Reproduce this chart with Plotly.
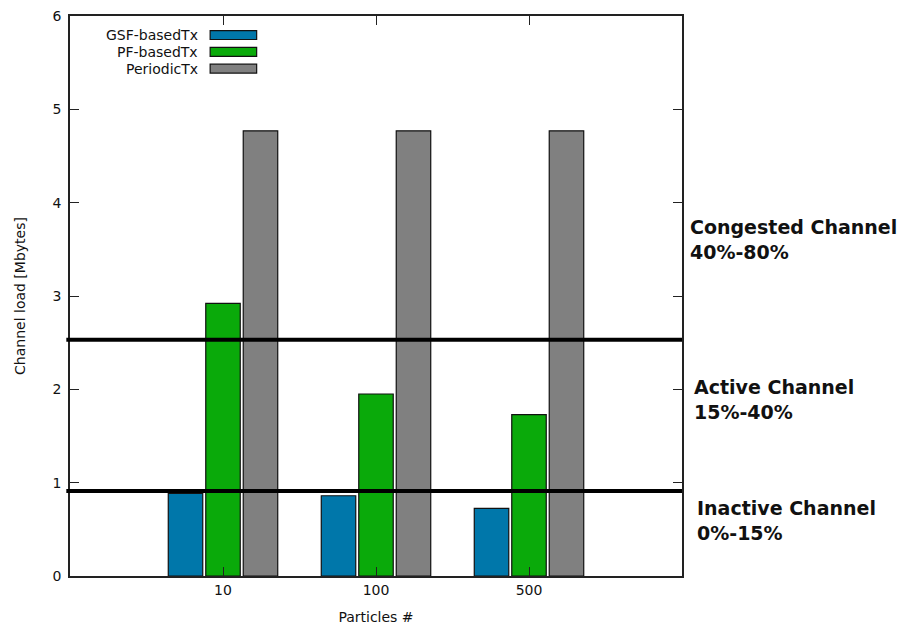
import plotly.graph_objects as go

categories = ["10", "100", "500"]
cat_pos = [1, 2, 3]
gsf_values = [0.885, 0.86, 0.725]
pf_values = [2.92, 1.95, 1.73]
periodic_values = [4.77, 4.77, 4.77]
series_names = ["GSF-basedTx", "PF-basedTx", "PeriodicTx"]
series_colors = ["#0077aa", "#0aaa0a", "#808080"]
threshold_values = [2.53, 0.91]
zone_labels = [("Congested Channel<br>40%-80%", 3.61, 0.010),
               ("Active Channel<br>15%-40%", 1.89, 0.016),
               ("Inactive Channel<br>0%-15%", 0.60, 0.021)]
y_ticks = [0, 1, 2, 3, 4, 5, 6]

FONT = "DejaVu Sans"

fig = go.Figure()
for name, vals, col in zip(series_names, [gsf_values, pf_values, periodic_values], series_colors):
    fig.add_trace(go.Bar(x=cat_pos, y=vals, name=name,
                         marker=dict(color=col, line=dict(color="#111111", width=1.2)),
                         showlegend=False))

for yv in threshold_values:
    fig.add_shape(type="line", xref="paper", yref="y", x0=-0.006, x1=1.0, y0=yv, y1=yv,
                  line=dict(color="black", width=4), layer="above")

# legend (text right-aligned with swatch on the right, gnuplot style)
leg_y = [0.966, 0.936, 0.906]
for name, col, ly in zip(series_names, series_colors, leg_y):
    fig.add_annotation(xref="paper", yref="paper", x=0.212, y=ly, text=name,
                       showarrow=False, xanchor="right", yanchor="middle",
                       font=dict(family=FONT, size=14, color="#111"))
    fig.add_shape(type="rect", xref="paper", yref="paper", x0=0.229, x1=0.305,
                  y0=ly - 0.008, y1=ly + 0.008, fillcolor=col,
                  line=dict(color="#111", width=1.2))

for txt, yv, xo in zone_labels:
    fig.add_annotation(xref="paper", yref="y", x=1.0 + xo, y=yv, text=txt, showarrow=False,
                       xanchor="left", yanchor="middle", align="left",
                       font=dict(family=FONT, size=19, color="#111", weight="bold"))

axis_common = dict(showline=True, linecolor="#222", linewidth=1.5, mirror="allticks",
                   ticks="inside", ticklen=9, tickcolor="#222", showgrid=False,
                   zeroline=False, automargin=False, ticklabeloverflow="allow",
                   tickfont=dict(family=FONT, size=14, color="#111"))

fig.update_layout(
    template="none",
    width=908, height=630,
    margin=dict(l=62, r=234, t=8, b=62),
    paper_bgcolor="white", plot_bgcolor="white",
    barmode="group", bargap=0.265, bargroupgap=0.08,
    xaxis=dict(range=[0, 4], tickvals=cat_pos, ticktext=categories,
               title=dict(text="Particles #", font=dict(family=FONT, size=14, color="#111"), standoff=16),
               **axis_common),
    yaxis=dict(range=[0, 6], tickvals=y_ticks, ticklabelstandoff=4,
               title=dict(text="Channel load [Mbytes]", font=dict(family=FONT, size=14, color="#111"), standoff=24),
               **axis_common),
)

fig.write_html("out.html")
